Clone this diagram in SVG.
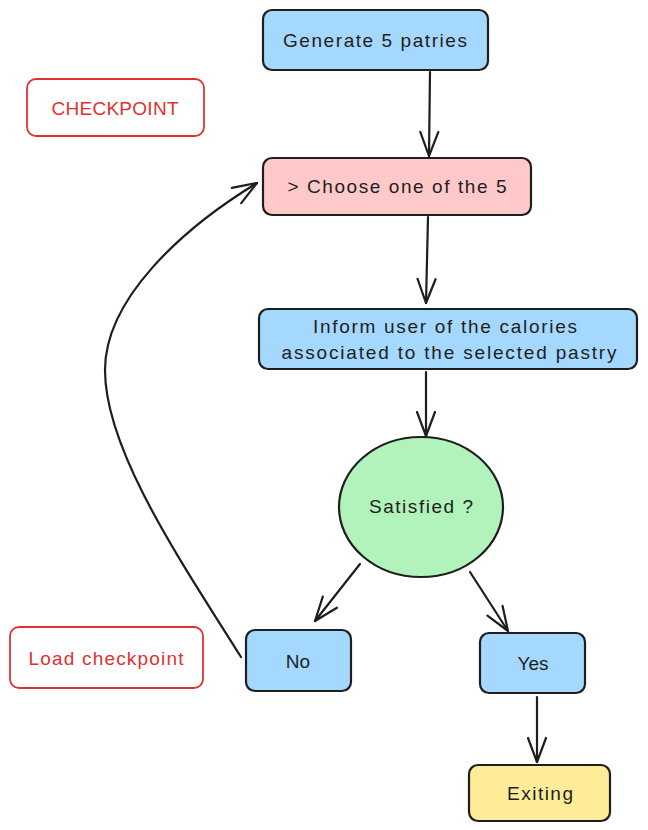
<svg xmlns="http://www.w3.org/2000/svg" width="648" height="830" viewBox="0 0 648 830">
<style>
.box{stroke:#1e1e1e;stroke-width:2.2;}
.red{fill:#ffffff;stroke:#e03131;stroke-width:1.8;}
.t{font-family:"Liberation Sans",Arial,sans-serif;font-size:19px;fill:#1e1e1e;text-anchor:middle;dominant-baseline:central;}
.tr{fill:#e03131;}
.c{fill:none;stroke:#1e1e1e;stroke-width:2.2;stroke-linecap:round;}
</style>
<defs>
<marker id="ah" markerUnits="userSpaceOnUse" markerWidth="30" markerHeight="30" viewBox="-26 -13 30 26" refX="0" refY="0" orient="auto">
<path d="M-24,-9 L0,0 L-24,9" fill="none" stroke="#1e1e1e" stroke-width="2.2" stroke-linecap="round" stroke-linejoin="round"/>
</marker>
</defs>
<rect width="648" height="830" fill="#ffffff"/>
<g id="connectors">
<path class="c" d="M430,72 L429,156" marker-end="url(#ah)"/>
<path class="c" d="M428,217 L426,303" marker-end="url(#ah)"/>
<path class="c" d="M426,372 L426,436" marker-end="url(#ah)"/>
<path class="c" d="M360,564 L315,621" marker-end="url(#ah)"/>
<path class="c" d="M470,572 L508,631" marker-end="url(#ah)"/>
<path class="c" d="M537,697 L537,762" marker-end="url(#ah)"/>
<path class="c" d="M241,657 C180,560 105,450 105,370 C105,300 180,230 257,183" marker-end="url(#ah)"/>
</g>
<g id="generate">
<rect class="box" x="263" y="10" width="225" height="60" rx="9" fill="#a5d8ff"/>
<text class="t" x="375" y="40" textLength="184" lengthAdjust="spacing">Generate 5 patries</text>
</g>
<g id="checkpoint">
<rect class="red" x="27" y="79" width="177" height="57" rx="9"/>
<text class="t tr" x="115" y="108" textLength="127" lengthAdjust="spacing">CHECKPOINT</text>
</g>
<g id="choose">
<rect class="box" x="263" y="158" width="268" height="57" rx="9" fill="#ffc9c9"/>
<text class="t" x="397" y="186" textLength="219" lengthAdjust="spacing">&gt; Choose one of the 5</text>
</g>
<g id="inform">
<rect class="box" x="259" y="309" width="378" height="60" rx="9" fill="#a5d8ff"/>
<text class="t" x="445" y="326" textLength="264" lengthAdjust="spacing">Inform user of the calories</text>
<text class="t" x="449" y="352" textLength="335" lengthAdjust="spacing">associated to the selected pastry</text>
</g>
<g id="satisfied">
<ellipse class="box" cx="421" cy="507" rx="82" ry="70" fill="#b2f2bb"/>
<text class="t" x="421" y="506" textLength="104" lengthAdjust="spacing">Satisfied ?</text>
</g>
<g id="load-checkpoint">
<rect class="red" x="10" y="627" width="193" height="61" rx="9"/>
<text class="t tr" x="106" y="658" textLength="155" lengthAdjust="spacing">Load checkpoint</text>
</g>
<g id="no">
<rect class="box" x="246" y="630" width="105" height="61" rx="9" fill="#a5d8ff"/>
<text class="t" x="298" y="661">No</text>
</g>
<g id="yes">
<rect class="box" x="480" y="633" width="105" height="60" rx="9" fill="#a5d8ff"/>
<text class="t" x="533" y="663">Yes</text>
</g>
<g id="exiting">
<rect class="box" x="469" y="765" width="141" height="56" rx="9" fill="#ffec99"/>
<text class="t" x="540" y="793" textLength="66" lengthAdjust="spacing">Exiting</text>
</g>
</svg>
